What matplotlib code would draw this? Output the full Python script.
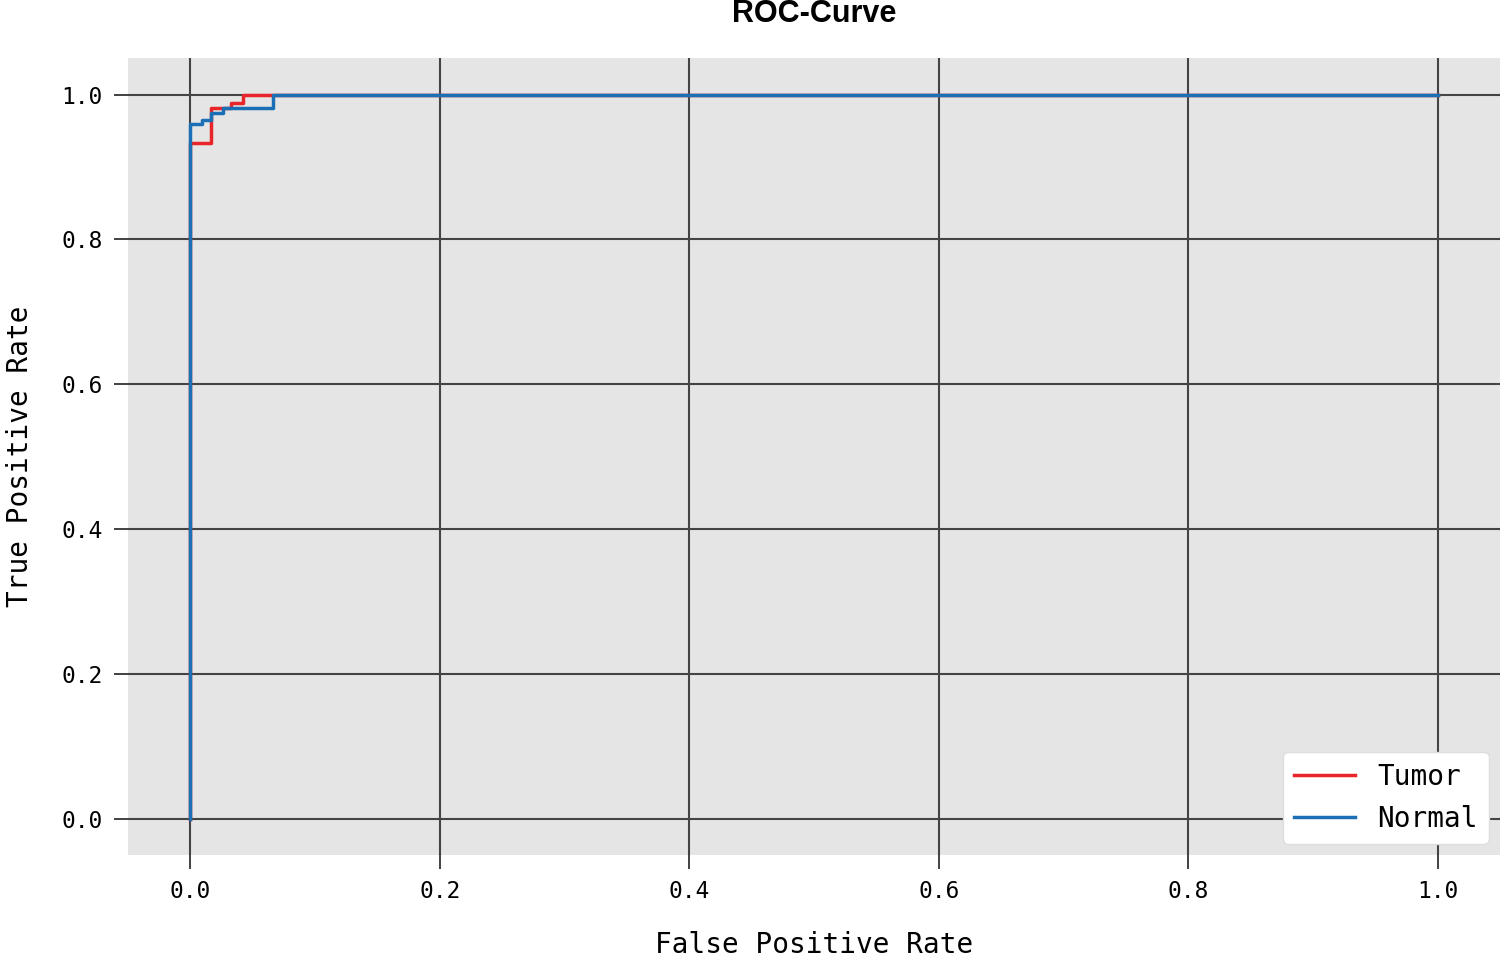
import numpy as np
import matplotlib
matplotlib.use("Agg")
import matplotlib.pyplot as plt

# step ROC points
tumor_fpr = [0.0, 0.0, 0.017, 0.017, 0.033, 0.033, 0.042, 0.042, 1.0]
tumor_tpr = [0.0, 0.933, 0.933, 0.982, 0.982, 0.988, 0.988, 1.0, 1.0]
normal_fpr = [0.0, 0.0, 0.009, 0.009, 0.017, 0.017, 0.026, 0.026, 0.066, 0.066, 1.0]
normal_tpr = [0.0, 0.959, 0.959, 0.965, 0.965, 0.975, 0.975, 0.982, 0.982, 1.0, 1.0]

RED = "#e8262a"
BLUE = "#1a6fb5"
MONO = "DejaVu Sans Mono"

fig = plt.figure(figsize=(15.05, 9.57), dpi=100)
ax = fig.add_axes([0.085, 0.1066, 0.9117, 0.8324])
ax.set_facecolor("#e5e5e5")
ax.plot(tumor_fpr, tumor_tpr, color=RED, lw=2.5, label="Tumor")
ax.plot(normal_fpr, normal_tpr, color=BLUE, lw=2.5, label="Normal")
ax.set_xlim(-0.05, 1.05)
ax.set_ylim(-0.05, 1.05)
ax.set_xticks(np.arange(0, 1.01, 0.2))
ax.set_yticks(np.arange(0, 1.01, 0.2))
ax.grid(True, color="#444444", lw=1.5)
ax.set_axisbelow(True)
for s in ax.spines.values():
    s.set_visible(False)
ax.tick_params(length=10, width=1.3, color="#333333", labelsize=16.5, pad=8)
for lab in ax.get_xticklabels() + ax.get_yticklabels():
    lab.set_family(MONO)
ax.set_xlabel("False Positive Rate", family=MONO, fontsize=20, labelpad=20)
ax.set_ylabel("True Positive Rate", family=MONO, fontsize=20, labelpad=20)
ax.set_title("ROC-Curve", fontsize=22, fontweight="bold", family="Liberation Sans", pad=26)
ax.legend(loc="lower right", prop={"family": MONO, "size": 20},
          frameon=True, fancybox=True, framealpha=1, edgecolor="#dddddd",
          handlelength=2.2, borderaxespad=0.4)
fig.savefig("out.png", dpi=100)
